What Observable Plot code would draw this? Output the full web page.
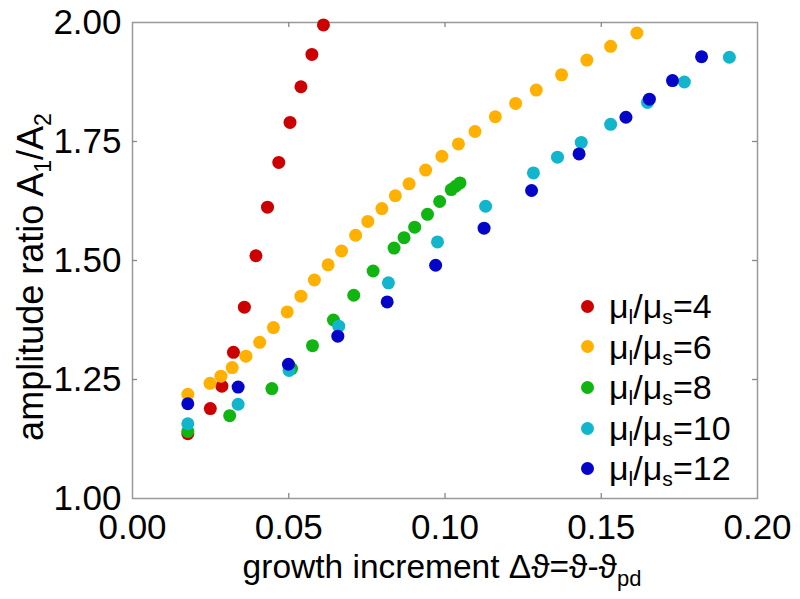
<!DOCTYPE html>
<html>
<head>
<meta charset="utf-8">
<script src="https://cdn.jsdelivr.net/npm/d3@7"></script>
<script src="https://cdn.jsdelivr.net/npm/@observablehq/plot@0.6"></script>
<style>
  html, body { margin: 0; padding: 0; background: #fff; }
  #wrap { position: relative; width: 800px; height: 599px; font-family: "Liberation Sans", Arial, sans-serif; }
  #legend { position: absolute; left: 581px; top: 286px; font-size: 34px; color: #000; }
  #legend .row { height: 40.6px; line-height: 40.6px; white-space: nowrap; display: flex; align-items: center; }
  #legend .sw { display: inline-block; width: 13px; height: 13px; border-radius: 50%; margin-right: 15px; }
  #legend sub { font-size: 0.62em; vertical-align: -0.3em; line-height: 0; }
</style>
</head>
<body>
<div id="wrap"><div id="legend"></div></div>
<script>
// Series: mu_l / mu_s ratio
const seriesNames = ["4", "6", "8", "10", "12"];
const seriesColors = ["#cc0000", "#ffb000", "#11b511", "#11b5cc", "#0505c8"];

const mu4X = [0.0177,0.0249,0.0286,0.0323,0.0358,0.0395,0.0432,0.0468,0.0504,0.0539,0.0574,0.0611];
const mu4Y = [1.136,1.189,1.236,1.307,1.402,1.510,1.612,1.706,1.790,1.865,1.933,1.995];

const mu6X = [0.0177,0.0248,0.0283,0.0319,0.0363,0.0407,0.0451,0.0495,0.0539,0.0582,0.0626,0.0669,0.0714,0.0753,0.0798,0.0841,0.0885,0.0938,0.0990,0.1043,0.1096,0.1161,0.1226,0.1292,0.1373,0.1454,0.1530,0.1614];
const mu6Y = [1.219,1.242,1.257,1.275,1.299,1.328,1.359,1.392,1.425,1.459,1.491,1.520,1.553,1.582,1.609,1.636,1.661,1.690,1.719,1.745,1.771,1.802,1.830,1.858,1.890,1.921,1.950,1.978];

const mu8X = [0.0177,0.0311,0.0446,0.0509,0.0576,0.0643,0.0708,0.0770,0.0837,0.0869,0.0903,0.0944,0.0983,0.1020,0.1034,0.1048];
const mu8Y = [1.141,1.174,1.231,1.273,1.321,1.375,1.427,1.478,1.526,1.548,1.570,1.597,1.624,1.649,1.656,1.663];

const mu10X = [0.0177,0.0338,0.0501,0.0660,0.0819,0.0976,0.1130,0.1283,0.1360,0.1436,0.1530,0.1648,0.1766,0.1910];
const mu10Y = [1.157,1.198,1.269,1.362,1.453,1.539,1.614,1.684,1.717,1.748,1.786,1.832,1.875,1.927];

const mu12X = [0.0177,0.0338,0.0499,0.0657,0.0815,0.0970,0.1125,0.1277,0.1429,0.1579,0.1654,0.1728,0.1821];
const mu12Y = [1.199,1.234,1.282,1.341,1.413,1.490,1.568,1.647,1.724,1.801,1.839,1.878,1.928];

const xTicks = [0, 0.05, 0.10, 0.15, 0.20];
const yTicks = [1.00, 1.25, 1.50, 1.75, 2.00];
const xInnerTicks = [0.05, 0.10, 0.15];
const yInnerTicks = [1.25, 1.50, 1.75];

const allX = [mu4X, mu6X, mu8X, mu10X, mu12X];
const allY = [mu4Y, mu6Y, mu8Y, mu10Y, mu12Y];
const data = [];
allX.forEach((xs, i) => xs.forEach((x, j) => data.push({series: seriesNames[i], x, y: allY[i][j]})));

const W = 800, H = 599;
const mL = 132, mR = 43, mT = 22, mB = 101;
const innerH = H - mT - mB, innerW = W - mL - mR;
const tickLen = 5;

const chart = Plot.plot({
  width: W, height: H,
  marginLeft: mL, marginRight: mR, marginTop: mT, marginBottom: mB,
  style: {fontFamily: "'Liberation Sans', Arial, sans-serif", background: "#fff", color: "#000", overflow: "visible"},
  x: {domain: [0, 0.2]},
  y: {domain: [1, 2]},
  color: {domain: seriesNames, range: seriesColors},
  marks: [
    Plot.frame({stroke: "#999", strokeWidth: 1.5}),
    Plot.tickX(xInnerTicks, {x: d => d, insetTop: innerH - tickLen, stroke: "#888", strokeWidth: 1.3}),
    Plot.tickX(xInnerTicks, {x: d => d, insetBottom: innerH - tickLen, stroke: "#888", strokeWidth: 1.3}),
    Plot.tickY(yInnerTicks, {y: d => d, insetRight: innerW - tickLen, stroke: "#888", strokeWidth: 1.3}),
    Plot.tickY(yInnerTicks, {y: d => d, insetLeft: innerW - tickLen, stroke: "#888", strokeWidth: 1.3}),
    Plot.axisX({ticks: xTicks, tickSize: 0, tickPadding: 16, tickFormat: d => d.toFixed(2), label: null, fontSize: 35}),
    Plot.axisY({ticks: yTicks, tickSize: 0, tickPadding: 11, tickFormat: d => d.toFixed(2), label: null, fontSize: 35}),
    Plot.dot(data, {x: "x", y: "y", fill: "series", r: 6.5, stroke: null})
  ]
});

document.getElementById("wrap").prepend(chart);

// Axis titles with subscripts
const svg = d3.select(chart);
const xl = svg.append("text")
  .attr("x", 442).attr("y", H - 21)
  .attr("text-anchor", "middle")
  .attr("font-size", 33.5).attr("fill", "#000");
xl.append("tspan").text("growth increment Δϑ=ϑ-ϑ");
xl.append("tspan").attr("font-size", 22).attr("dy", 8).text("pd");

const yl = svg.append("text")
  .attr("transform", `translate(43,277) rotate(-90)`)
  .attr("text-anchor", "middle")
  .attr("font-size", 36).attr("fill", "#000");
yl.append("tspan").text("amplitude ratio A");
yl.append("tspan").attr("font-size", 23).attr("dy", 8).text("1");
yl.append("tspan").attr("dy", -8).text("/A");
yl.append("tspan").attr("font-size", 23).attr("dy", 8).text("2");

// Legend
const legend = d3.select("#legend");
seriesNames.forEach((s, i) => {
  const row = legend.append("div").attr("class", "row");
  row.append("span").attr("class", "sw").style("background", seriesColors[i]);
  row.append("span").html(`μ<sub>l</sub>/μ<sub>s</sub>=${s}`);
});
</script>
</body>
</html>
